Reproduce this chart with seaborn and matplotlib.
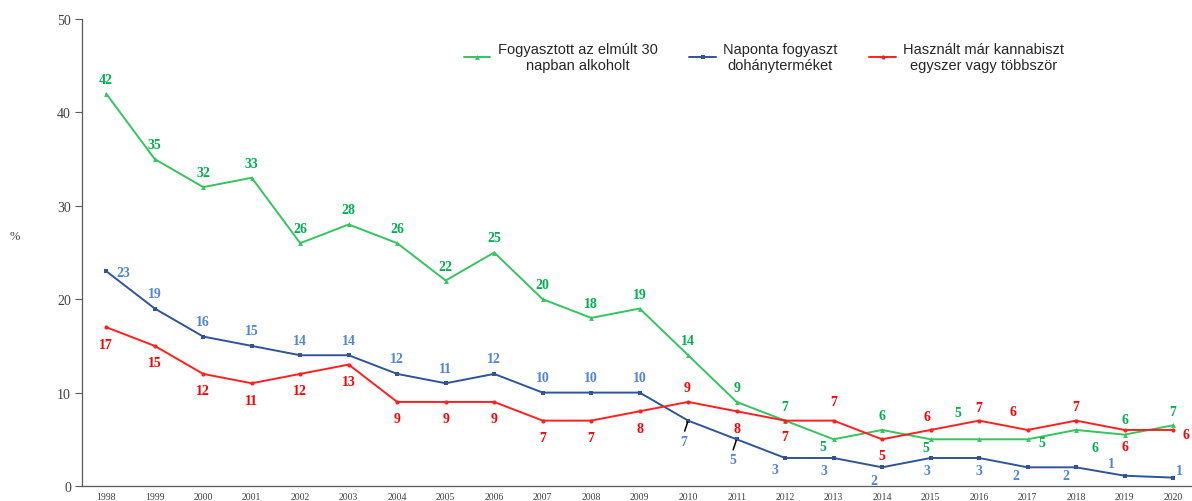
import matplotlib
matplotlib.use("Agg")
import matplotlib.pyplot as plt
import seaborn as sns
import numpy as np

# ---------------- data ----------------
years = list(range(1998, 2021))
alcohol = [42, 35, 32, 33, 26, 28, 26, 22, 25, 20, 18, 19, 14, 9, 7, 5, 6, 5, 5, 5, 6, 5.5, 6.5]
tobacco = [23, 19, 16, 15, 14, 14, 12, 11, 12, 10, 10, 10, 7, 5, 3, 3, 2, 3, 3, 2, 2, 1.1, 0.9]
cannabis = [17, 15, 12, 11, 12, 13, 9, 9, 9, 7, 7, 8, 9, 8, 7, 7, 5, 6, 7, 6, 7, 6, 6]

alcohol_lbl = ["42", "35", "32", "33", "26", "28", "26", "22", "25", "20", "18", "19", "14", "9", "7", "5", "6", "5", "5", "5", "6", "6", "7"]
tobacco_lbl = ["23", "19", "16", "15", "14", "14", "12", "11", "12", "10", "10", "10", "7", "5", "3", "3", "2", "3", "3", "2", "2", "1", "1"]
cannabis_lbl = ["17", "15", "12", "11", "12", "13", "9", "9", "9", "7", "7", "8", "9", "8", "7", "7", "5", "6", "7", "6", "7", "6", "6"]

series_names = ["Fogyasztott az elmúlt 30\nnapban alkoholt",
                "Naponta fogyaszt\ndohányterméket",
                "Használt már kannabiszt\negyszer vagy többször"]
yticks = [0, 10, 20, 30, 40, 50]

# label placement (image pixel offsets dx, dy; dy positive = downwards)
alc_off = [(0, -14.5)] * 14 + [(0, -14), (-11, 7.5), (0, -14), (-5, 8), (-21, -27),
                               (14, 3), (19, 18), (0, -15), (0, -14)]
tob_off = [(17, 1)] + [(0, -15)] * 11 + [(-4, 21), (-4, 20), (-10, 12), (-10, 13), (-8, 13),
                                         (-4, 13), (0, 13), (-12, 8), (-10, 8), (-13, -12), (6, -7)]
can_off = [(0, 17)] * 12 + [(-1, -14), (0, 17), (0, 16), (0, -19), (0, 16.5), (-4, -13.5),
                            (0, -13.5), (-15, -18), (0, -14), (0, 17), (13, 5)]

# ---------------- style ----------------
sns.set_style("white")
plt.rcParams["font.family"] = ["Liberation Serif", "DejaVu Serif"]

GREEN_L, GREEN_T = "#35c45f", "#00b050"
BLUE_L, BLUE_T = "#2f5597", "#4f87d6"
RED_L, RED_T = "#ff1f1f", "#ff0000"
AX_C = "#595959"

fig = plt.figure(figsize=(11.92, 5.02), dpi=100)
ax = fig.add_axes([82 / 1192, 15 / 502, 1 - 82 / 1192, 467 / 502])

sns.lineplot(x=years, y=alcohol, ax=ax, color=GREEN_L, marker="^", markersize=3.5,
             markeredgewidth=0, linewidth=1.4, legend=False)
sns.lineplot(x=years, y=tobacco, ax=ax, color=BLUE_L, marker="s", markersize=3,
             markeredgewidth=0, linewidth=1.4, legend=False)
sns.lineplot(x=years, y=cannabis, ax=ax, color=RED_L, marker="o", markersize=3,
             markeredgewidth=0, linewidth=1.4, legend=False)

# data labels
for vals, lbls, offs, col in [(alcohol, alcohol_lbl, alc_off, GREEN_T),
                              (tobacco, tobacco_lbl, tob_off, BLUE_T),
                              (cannabis, cannabis_lbl, can_off, RED_T)]:
    for x, v, t, (dx, dy) in zip(years, vals, lbls, offs):
        ax.annotate(t, xy=(x, v), xytext=(dx, -dy), textcoords="offset pixels",
                    ha="center", va="center", fontsize=10, fontweight="bold", color=col)

# leader lines for two blue labels
for x, v in [(2010, tobacco[12]), (2011, tobacco[13])]:
    ax.annotate("", xy=(x, v), xytext=(-3.5, -10.5), textcoords="offset pixels",
                arrowprops=dict(arrowstyle="-", color="black", lw=1.1, shrinkA=0, shrinkB=1))

# axes
ax.set_xlim(1997.5, 2020.39)
ax.set_ylim(0, 50)
ax.set_yticks(yticks)
ax.set_yticklabels([str(t) for t in yticks], fontsize=10, color="#404040")
ax.set_xticks(years)
ax.set_xticklabels([str(y) for y in years], fontsize=7, color="#404040")
ax.set_xticks([y + 0.5 for y in years[:-1]], minor=True)
ax.tick_params(axis="x", which="major", length=0, pad=4)
ax.tick_params(axis="x", which="minor", length=4, width=0.8, color=AX_C, direction="out")
ax.tick_params(axis="y", which="major", length=5, width=0.8, color=AX_C, direction="out", pad=3, left=True)
ax.set_xlabel("")
ax.set_ylabel("")
for s in ["top", "right"]:
    ax.spines[s].set_visible(False)
for s in ["left", "bottom"]:
    ax.spines[s].set_color(AX_C)
    ax.spines[s].set_linewidth(0.9)
ax.grid(False)

fig.text(15 / 1192, 1 - 237 / 502, "%", fontsize=9, color="#404040", ha="center", va="center")

# legend
handles = ax.get_lines()[:3]
leg = fig.legend(handles, series_names, ncol=3, loc="center",
                 bbox_to_anchor=(764 / 1192, 1 - 58 / 502), frameon=False,
                 prop={"family": "Liberation Sans", "size": 10.5},
                 handlelength=1.8, handletextpad=0.5, columnspacing=2.2)
for t in leg.get_texts():
    t.set_multialignment("center")
    t.set_color("#262626")

fig.savefig("out.png", dpi=100)
